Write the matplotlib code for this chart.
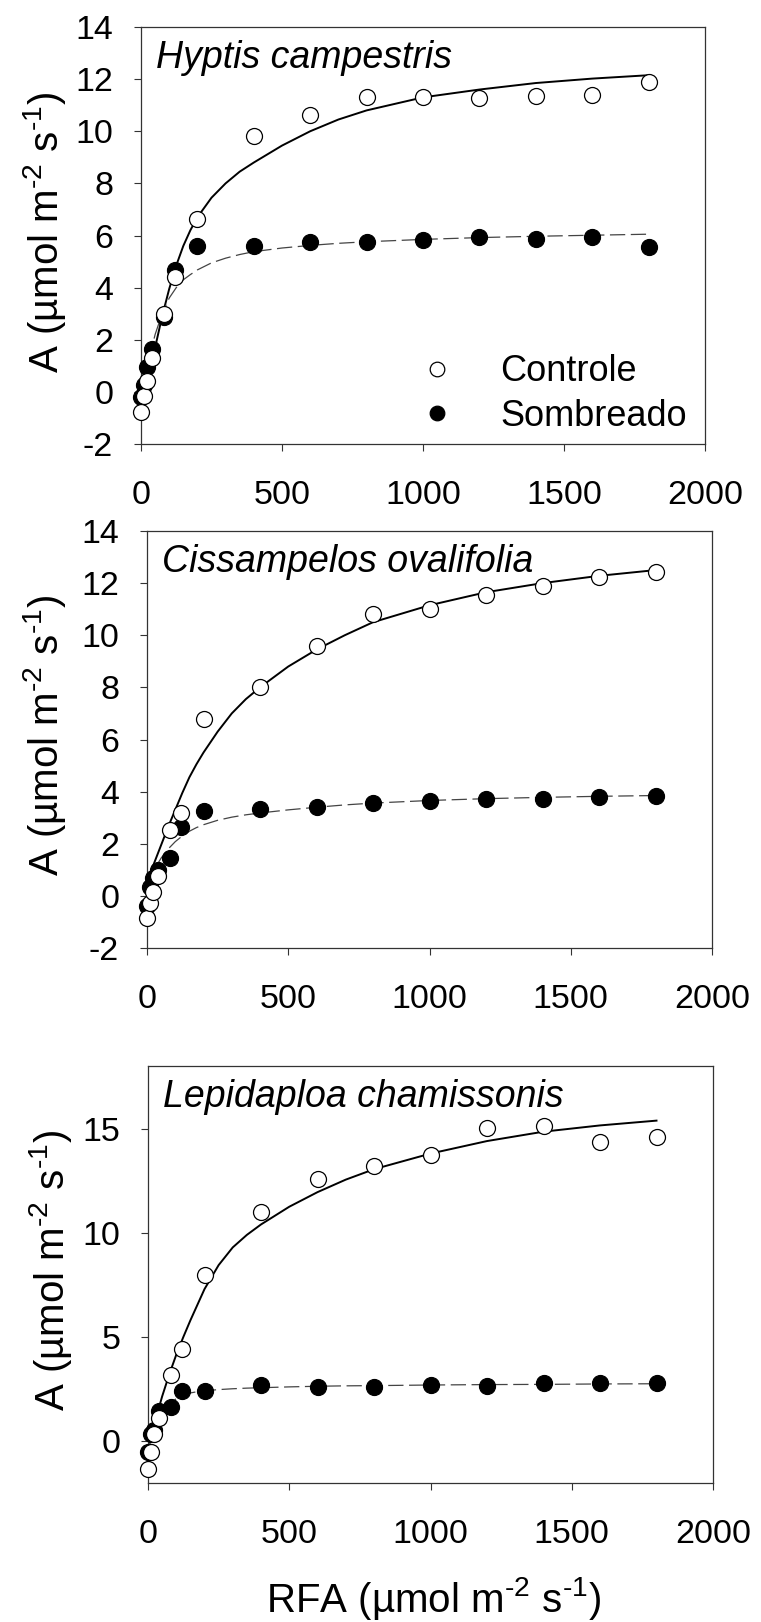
import matplotlib
matplotlib.use('Agg')
import matplotlib.pyplot as plt
from matplotlib.lines import Line2D

plt.rcParams['font.family'] = ['Liberation Sans', 'DejaVu Sans']
plt.rcParams['mathtext.fontset'] = 'custom'
plt.rcParams['mathtext.rm'] = 'Liberation Sans'
plt.rcParams['mathtext.it'] = 'Liberation Sans:italic'
plt.rcParams['mathtext.bf'] = 'Liberation Sans:bold'
plt.rcParams['axes.unicode_minus'] = False
plt.rcParams['lines.scale_dashes'] = False

# ---------------- data ----------------
species = ['Hyptis campestris', 'Cissampelos ovalifolia', 'Lepidaploa chamissonis']
legend_labels = ['Controle', 'Sombreado']

par = [0, 10, 20, 40, 80, 120, 200, 400, 600, 800, 1000, 1200, 1400, 1600, 1800]
curve_par = [0, 25, 50, 75, 100, 125, 150, 175, 200, 250, 300, 350, 400, 500, 600, 700, 800,
             1000, 1200, 1400, 1600, 1800]

hyptis_controle = [-0.76, -0.16, 0.43, 1.29, 2.99, 4.42, 6.63, 9.82, 10.62, 11.33, 11.30, 11.27, 11.35, 11.40, 11.90]
hyptis_sombreado = [-0.20, 0.25, 0.97, 1.63, 2.88, 4.68, 5.61, 5.61, 5.76, 5.76, 5.82, 5.93, 5.88, 5.93, 5.55]
hyptis_controle_fit = [-0.8, 0.45, 1.7, 2.9, 3.95, 4.85, 5.6, 6.2, 6.7, 7.45, 8.0, 8.45, 8.8, 9.45, 10.0,
                       10.45, 10.8, 11.3, 11.6, 11.85, 12.02, 12.15]
hyptis_sombreado_fit = [-0.3, 1.1, 2.2, 3.0, 3.6, 4.0, 4.3, 4.5, 4.68, 4.95, 5.13, 5.27, 5.38, 5.52, 5.62,
                        5.7, 5.76, 5.85, 5.92, 5.97, 6.01, 6.05]

cissampelos_controle = [-0.86, -0.28, 0.13, 0.76, 2.53, 3.19, 6.79, 8.03, 9.60, 10.80, 11.01, 11.55, 11.90, 12.23, 12.44]
cissampelos_sombreado = [-0.37, 0.35, 0.67, 1.00, 1.44, 2.65, 3.26, 3.32, 3.42, 3.58, 3.65, 3.70, 3.72, 3.78, 3.82]
cissampelos_controle_fit = [0.5, 1.25, 1.95, 2.65, 3.3, 3.95, 4.55, 5.05, 5.5, 6.3, 7.0, 7.55, 8.0, 8.8, 9.45,
                            10.0, 10.5, 11.15, 11.65, 12.0, 12.28, 12.5]
cissampelos_sombreado_fit = [0.5, 1.0, 1.45, 1.8, 2.08, 2.3, 2.48, 2.62, 2.73, 2.9, 3.02, 3.11, 3.18, 3.3, 3.4,
                             3.49, 3.56, 3.66, 3.73, 3.78, 3.82, 3.85]

lepidaploa_controle = [-1.35, -0.50, 0.35, 1.10, 3.20, 4.45, 8.00, 11.00, 12.60, 13.20, 13.75, 15.05, 15.10, 14.35, 14.58]
lepidaploa_sombreado = [-0.50, 0.35, 0.53, 1.45, 1.65, 2.40, 2.41, 2.68, 2.60, 2.60, 2.70, 2.65, 2.78, 2.80, 2.78]
lepidaploa_controle_fit = [-0.4, 0.95, 2.15, 3.2, 4.15, 5.0, 5.8, 6.55, 7.3, 8.45, 9.3, 9.9, 10.4, 11.25, 11.95,
                           12.55, 13.05, 13.8, 14.4, 14.85, 15.15, 15.38]
lepidaploa_sombreado_fit = [-0.3, 0.6, 1.3, 1.75, 2.05, 2.22, 2.32, 2.38, 2.42, 2.48, 2.52, 2.55, 2.57, 2.61,
                            2.64, 2.66, 2.67, 2.7, 2.72, 2.73, 2.75, 2.76]

x_ticks = [0, 500, 1000, 1500, 2000]
y_ticks_1 = [-2, 0, 2, 4, 6, 8, 10, 12, 14]
y_ticks_3 = [0, 5, 10, 15]

HY = '\u2010'
ylabel = 'A (µmol m$^{' + HY + '2}$ s$^{' + HY + '1}$)'
xlabel = 'RFA (µmol m$^{' + HY + '2}$ s$^{' + HY + '1}$)'

# ---------------- figure ----------------
W, H = 761, 1622
fig = plt.figure(figsize=(W / 100, H / 100), dpi=100)


def rect(left, top, right, bottom):
    return [left / W, 1 - bottom / H, (right - left) / W, (bottom - top) / H]


panels = [
    dict(rect=rect(141, 27, 705, 444), ctrl=hyptis_controle, somb=hyptis_sombreado,
         cfit=hyptis_controle_fit, sfit=hyptis_sombreado_fit, ylim=(-2, 14), yticks=y_ticks_1,
         ylab_px=(44, 232), name=species[0]),
    dict(rect=rect(147, 531, 712, 948), ctrl=cissampelos_controle, somb=cissampelos_sombreado,
         cfit=cissampelos_controle_fit, sfit=cissampelos_sombreado_fit, ylim=(-2, 14), yticks=y_ticks_1,
         ylab_px=(44, 735), name=species[1]),
    dict(rect=rect(148, 1066, 713, 1483), ctrl=lepidaploa_controle, somb=lepidaploa_sombreado,
         cfit=lepidaploa_controle_fit, sfit=lepidaploa_sombreado_fit, ylim=(-2, 18), yticks=y_ticks_3,
         ylab_px=(51, 1270), name=species[2]),
]

spine_c = '#333333'
ms = 11.5

for i, p in enumerate(panels):
    ax = fig.add_axes(p['rect'])
    ax.plot(curve_par, p['cfit'], color='black', lw=1.4, zorder=2)
    ax.plot(curve_par, p['sfit'], color='#444444', lw=0.9, dashes=(11, 4), zorder=2)
    ax.plot(par, p['somb'], 'o', ms=ms, mfc='black', mec='black', mew=0.9,
            clip_on=False, zorder=3, label=legend_labels[1])
    ax.plot(par, p['ctrl'], 'o', ms=ms, mfc='white', mec='black', mew=0.9,
            clip_on=False, zorder=4, label=legend_labels[0])
    ax.set_xlim(0, 2000)
    ax.set_ylim(*p['ylim'])
    ax.set_xticks(x_ticks)
    ax.set_yticks(p['yticks'])
    ax.tick_params(axis='both', direction='out', length=5, width=0.8, color=spine_c,
                   labelsize=24.5)
    ax.tick_params(axis='x', pad=21)
    ax.tick_params(axis='y', pad=15)
    for s in ax.spines.values():
        s.set_color(spine_c)
        s.set_linewidth(0.9)
    ax.text(0.026, 0.902, p['name'], transform=ax.transAxes, fontsize=27,
            style='italic', ha='left', va='baseline')
    ax.set_ylabel(ylabel, fontsize=29, va='center')
    ax.yaxis.set_label_coords(p['ylab_px'][0] / W, 1 - p['ylab_px'][1] / H,
                              transform=fig.transFigure)
    if i == 0:
        handles = [Line2D([], [], ls='none', marker='o', ms=10.5, mfc='white', mec='black', mew=0.9),
                   Line2D([], [], ls='none', marker='o', ms=10.5, mfc='black', mec='black', mew=0.9)]
        ax.legend(handles, legend_labels, loc='center left',
                  bbox_to_anchor=(419 / W, 1 - 394 / H), bbox_transform=fig.transFigure,
                  frameon=False, fontsize=26, handlelength=1.0, handletextpad=1.25,
                  labelspacing=0.26, borderpad=0, borderaxespad=0)
    if i == 2:
        ax.set_xlabel(xlabel, fontsize=29, va='center')
        ax.xaxis.set_label_coords(434 / W, 1 - 1599 / H, transform=fig.transFigure)

fig.savefig('out.png', dpi=100, facecolor='white')
